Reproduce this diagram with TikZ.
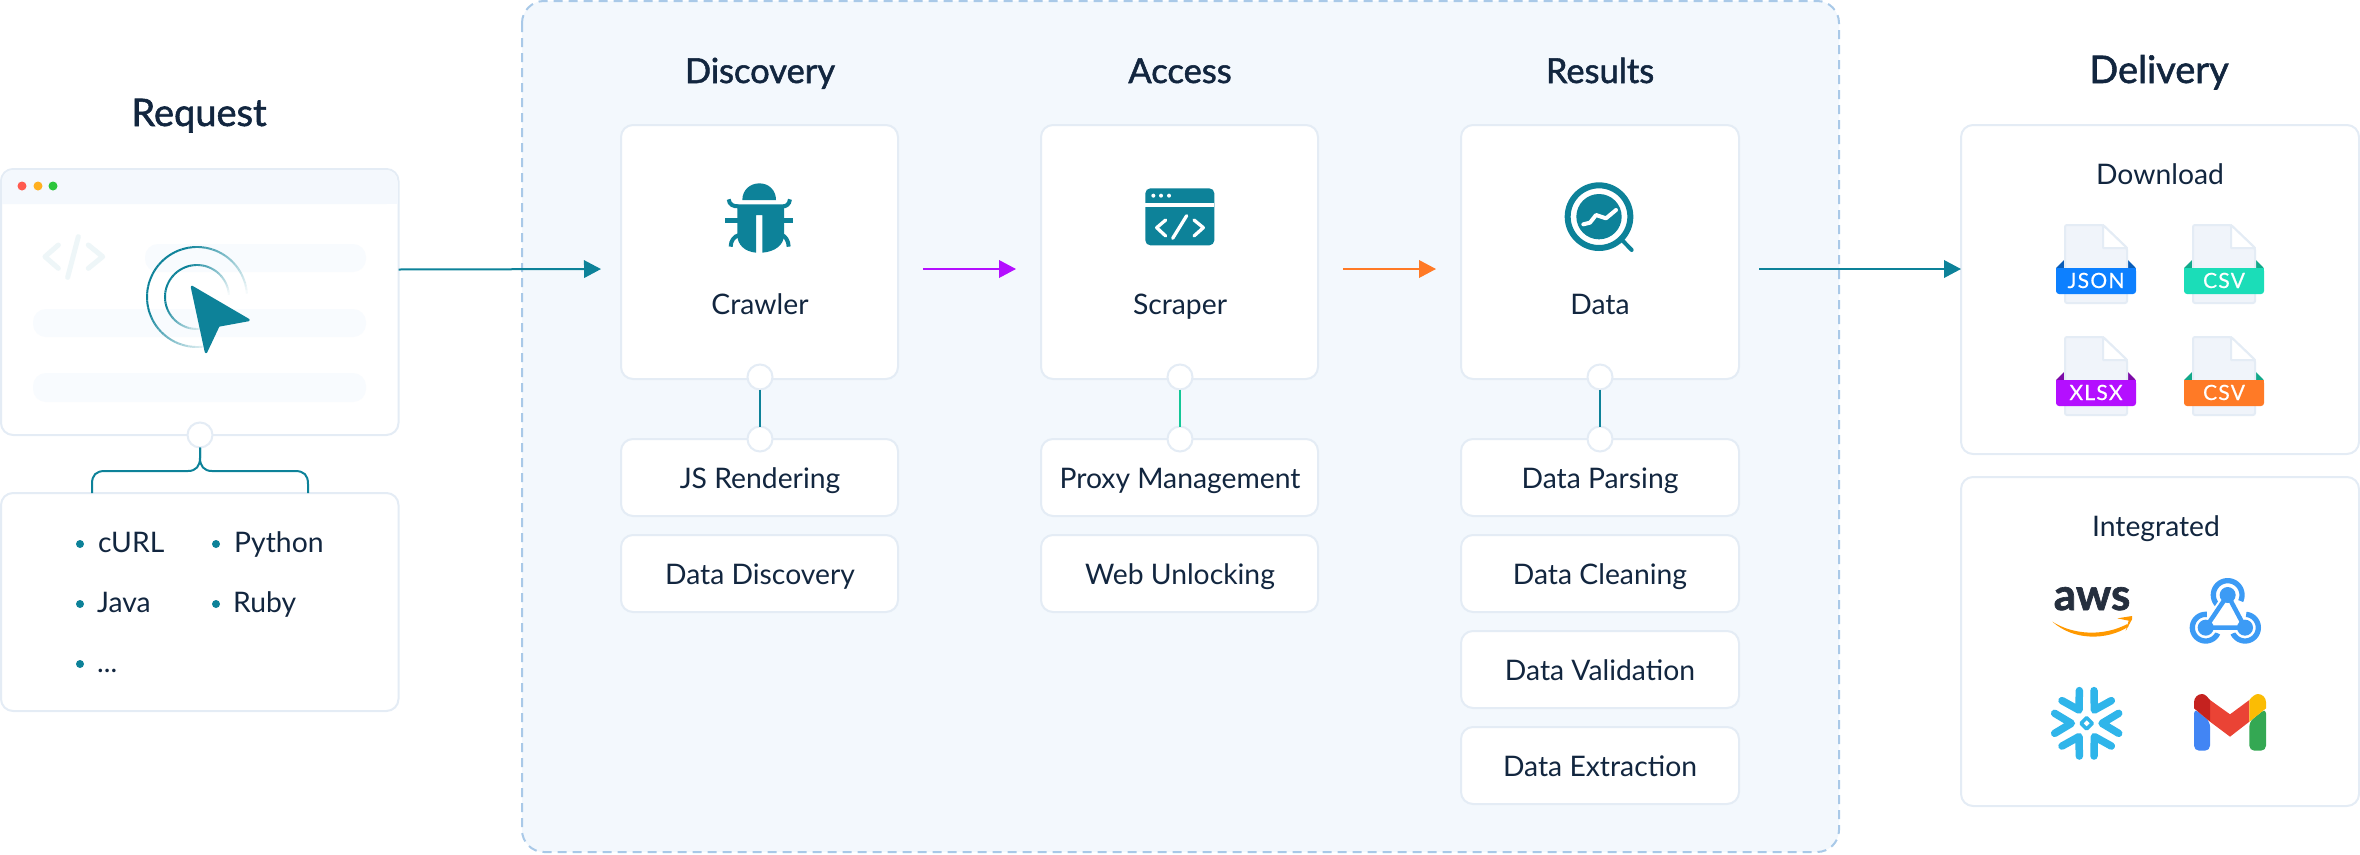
\documentclass[tikz,border=0pt]{standalone}
\usepackage{fontspec}
\usetikzlibrary{arrows.meta,calc}
\setmainfont{Lato}
\newfontfamily\tagfam[LetterSpace=6,FakeBold=0.4]{Lato}
\newfontfamily\ttlfam[FakeBold=1.5]{Lato}
\newfontfamily\awsfam[FakeBold=1.5]{Lato Bold}
\definecolor{edgec}{HTML}{E4ECF5}
\definecolor{tealc}{HTML}{0D8299}
\definecolor{inkc}{HTML}{12263F}
\definecolor{panelc}{HTML}{F3F8FD}
\definecolor{dashc}{HTML}{A9C9E8}
\definecolor{pillc}{HTML}{F8FBFE}
\definecolor{barc}{HTML}{F4F8FD}
\definecolor{sheetc}{HTML}{F0F4FA}
\definecolor{greenln}{HTML}{14C797}
\definecolor{purplec}{HTML}{B40FFF}
\definecolor{orangec}{HTML}{FF7A26}
\definecolor{bluec}{HTML}{0D80FF}
\definecolor{bluedk}{HTML}{0A5DB8}
\definecolor{mintc}{HTML}{1BDDB8}
\definecolor{mintdk}{HTML}{12A88A}
\definecolor{purpledk}{HTML}{7D0AA8}
\definecolor{hookc}{HTML}{3C9BF5}
\definecolor{snowc}{HTML}{2FB5EA}
\definecolor{awsc}{HTML}{252F3E}
\definecolor{awso}{HTML}{FF9900}
\definecolor{dotr}{HTML}{FF5A4F}
\definecolor{doty}{HTML}{FFB020}
\definecolor{dotg}{HTML}{2CC63C}
\definecolor{gblue}{HTML}{4285F4}
\definecolor{ggreen}{HTML}{34A853}
\definecolor{gred}{HTML}{EA4335}
\definecolor{gdred}{HTML}{C5221F}
\definecolor{gyellow}{HTML}{FBBC04}
\newcommand\bodyfnt{\fontsize{28.3}{32}\selectfont}
\newcommand\titlefnt{\ttlfam\fontsize{34.5}{38}\selectfont}
\newcommand\bigtitlefnt{\ttlfam\fontsize{38}{42}\selectfont}
\tikzset{
  card/.style n args={2}{draw=edgec,line width=2pt,fill=white,rounded corners=12pt,inner sep=0pt,outer sep=0pt,anchor=north west,minimum width=#1pt,minimum height=#2pt},
  port/.style={circle,draw=edgec,line width=2pt,fill=white,minimum size=25pt,inner sep=0pt,outer sep=0pt},
  lbl/.style={text=inkc,anchor=base,font=\bodyfnt,inner sep=0pt},
  lblw/.style={text=inkc,anchor=base west,font=\bodyfnt,inner sep=0pt},
  ttl/.style={text=inkc,anchor=base,font=\titlefnt,inner sep=0pt},
  bigttl/.style={text=inkc,anchor=base,font=\bigtitlefnt,inner sep=0pt},
  dot/.style={circle,fill=tealc,minimum size=8pt,inner sep=0pt},
  arr/.style={line width=2pt,-{Triangle[length=17pt,width=17.5pt]}},
  link/.style={line width=2pt},
  z/.style 2 args={shift={(#1,#2)},x=0.33333pt,y=-0.33333pt},
  tagtxt/.style={text=white,anchor=base,inner sep=0pt,font=\tagfam\fontsize{21}{24}\selectfont},
  pill/.style={fill=pillc,rounded corners=13pt},
}
\newcommand\fileicon[6]{% x y tag fill dark name
  \begin{scope}[shift={(#1,#2)}]
    \fill[#5] (2056,268) -- (2065,259) -- (2065,268) -- cycle;
    \fill[#5] (2135.7,268) -- (2127,259) -- (2127,268) -- cycle;
    \draw[edgec,fill=sheetc,line width=2pt,rounded corners=2pt] (2065,225) -- (2103,225) -- (2127,248) -- (2127,303) -- (2065,303) -- cycle;
    \draw[edgec,fill=white,line width=2pt,line join=round] (2103,225) -- (2103,248) -- (2127,248) -- cycle;
    \fill[#4,rounded corners=3pt] (2056,268) -- (2056,294) -- (2136,294) -- (2136,268) -- cycle;
    \fill[#4] (2056,268) rectangle (2136,280);
    \node[tagtxt] (#6) at (2096,288) {#3};
  \end{scope}
}
\begin{document}
\begin{tikzpicture}[x=1pt,y=-1pt]
\useasboundingbox (0,0) rectangle (2360,854);
% panel
\draw[fill=panelc,draw=dashc,line width=2pt,dash pattern=on 9pt off 6pt,rounded corners=22pt] (522,1) rectangle (1839,852);

% request window
\node[card={397.5}{266}] (request) at (1,169) {};
\fill[barc,rounded corners=11pt] (2,204) -- (2,170) -- (397.5,170) -- (397.5,204) [sharp corners] -- cycle;
\fill[barc] (2,190) rectangle (397.5,203.5);
\fill[dotr] (22,186) circle (4.5);
\fill[doty] (38,186) circle (4.5);
\fill[dotg] (53,186) circle (4.5);
\fill[pill] (145,244) rectangle (366,272);
\fill[pill] (33,309) rectangle (366,337);
\fill[pill] (33,373) rectangle (366,402);
\begin{scope}[z={0}{140},line width=5pt,line cap=round,line join=round,draw=tealc!7!white]
  \draw (175,315) -- (135,350) -- (175,385);
  \draw (235,290) -- (203,412);
  \draw (265,315) -- (308,350) -- (265,385);
\end{scope}
\foreach \a in {0,-4,...,-284}{
  \pgfmathsetmacro\p{max(0,min(100,min(-\a/1.0,(285+\a)/0.9)))}
  \draw[tealc!\p!white,line width=2pt] (197,297)+(\a:50) -- +({\a-4}:50);
  \draw[tealc!\p!white,line width=2pt] (197,297)+(\a:32) -- +({\a-4}:32);
}
\draw[fill=tealc,draw=tealc,line width=2.5pt,line join=round] (192,287) -- (248.5,320) -- (218.5,325.5) -- (206,352) -- cycle;

% list box
\node[card={397.5}{218}] (langs) at (1,493) {};
\node[port] (reqport) at (200,435) {};
\draw[tealc,link] (reqport.south) -- (200,458) .. controls (200,466) and (196,471) .. (188,471) -- (105,471) .. controls (96,471) and (92,475) .. (92,484) -- (92,493);
\draw[tealc,link] (reqport.south) -- (200,458) .. controls (200,466) and (204,471) .. (212,471) -- (295,471) .. controls (304,471) and (308,475) .. (308,484) -- (308,493);
\node[dot] (b1) at (80,544) {};
\node[dot] (b2) at (216,544) {};
\node[dot] (b3) at (80,604) {};
\node[dot] (b4) at (216,604) {};
\node[dot] (b5) at (80,664) {};
\node[lblw] (t1) at (98,552) {cURL};
\node[lblw] (t2) at (234,552) {Python};
\node[lblw] (t3) at (97,612) {Java};
\node[lblw] (t4) at (233,612) {Ruby};
\node[lblw] (t5) at (97,672) {...};

% titles
\node[bigttl] (h0) at (199,126) {Request};
\node[ttl] (h1) at (760,83) {Discovery};
\node[ttl] (h2) at (1180,83) {Access};
\node[ttl] (h3) at (1600,83) {Results};
\node[bigttl] (h4) at (2159,83) {Delivery};

% main cards
\node[card={277}{254}] (crawler) at (621,125) {};
\node[card={277}{254}] (scraper) at (1041,125) {};
\node[card={278}{254}] (data) at (1461,125) {};
\node[lbl] (crawlert) at (760,314) {Crawler};
\node[lbl] (scrapert) at (1180,314) {Scraper};
\node[lbl] (datat) at (1600,314) {Data};

% sub cards
\node[card={277}{77}] (js) at (621,439) {};
\node[card={277}{77}] (dd) at (621,535) {};
\node[card={277}{77}] (pm) at (1041,439) {};
\node[card={277}{77}] (wu) at (1041,535) {};
\node[card={278}{77}] (dp) at (1461,439) {};
\node[card={278}{77}] (dc) at (1461,535) {};
\node[card={278}{77}] (dv) at (1461,631) {};
\node[card={278}{77}] (de) at (1461,727) {};
\node[lbl] (jst) at (760,488) {JS Rendering};
\node[lbl] (ddt) at (760,584) {Data Discovery};
\node[lbl] (pmt) at (1180,488) {Proxy Management};
\node[lbl] (wut) at (1180,584) {Web Unlocking};
\node[lbl] (dpt) at (1600,488) {Data Parsing};
\node[lbl] (dct) at (1600,584) {Data Cleaning};
\node[lbl] (dvt) at (1600,680) {Data Validation};
\node[lbl] (det) at (1600,776) {Data Extraction};

% ports
\node[port] (p1a) at (760,377) {};
\node[port] (p1b) at (760,439) {};
\node[port] (p2a) at (1180,377) {};
\node[port] (p2b) at (1180,439) {};
\node[port] (p3a) at (1600,377) {};
\node[port] (p3b) at (1600,439) {};
\draw[tealc,link] (p1a) -- (p1b);
\draw[greenln,link] (p2a) -- (p2b);
\draw[tealc,link] (p3a) -- (p3b);

% delivery cards
\node[card={398}{329}] (download) at (1961,125) {};
\node[card={398}{329}] (integrated) at (1961,477) {};
\node[lbl] (dlt) at (2160,184) {Download};
\node[lbl] (intt) at (2156,536) {Integrated};

% arrows
\draw[arr,tealc,shorten >=20pt] ([yshift=32.5pt]request.east) -- ([yshift=-17pt]crawler.west);
\draw[arr,purplec,shorten <=25pt,shorten >=25pt] ([yshift=-17pt]crawler.east) -- ([yshift=-17pt]scraper.west);
\draw[arr,orangec,shorten <=25pt,shorten >=25pt] ([yshift=-17pt]scraper.east) -- ([yshift=-17pt]data.west);
\draw[arr,tealc,shorten <=20pt] ([yshift=-17pt]data.east) -- ([yshift=20.5pt]download.west);

% bug icon
\begin{scope}[z={700}{170},tealc]
  \fill (127,90) .. controls (127,60) and (150,40) .. (178,40) .. controls (206,40) and (228,60) .. (228,90) -- cycle;
  \fill (112,103) -- (252,103) -- (252,195) .. controls (252,225) and (225,245) .. (187,248) -- (187,135) -- (168,135) -- (168,248) .. controls (135,245) and (112,225) .. (112,195) -- cycle;
  \draw[line width=4pt] (86,88) .. controls (88,105) and (100,109) .. (115,109);
  \draw[line width=4pt] (270,88) .. controls (268,105) and (256,109) .. (250,109);
  \fill (75,145) rectangle (114,160);
  \fill (250,145) rectangle (280,160);
  \draw[line width=4pt] (92,230) .. controls (92,212) and (103,198) .. (118,195);
  \draw[line width=4pt] (266,230) .. controls (266,212) and (255,198) .. (246,195);
\end{scope}

% scraper icon
\begin{scope}[z={1120}{170}]
  \fill[tealc,rounded corners=5pt] (76,55) rectangle (283,226);
  \fill[white] (76,98) rectangle (283,110);
  \fill[white] (100,77) circle (6) (123,77) circle (6) (147,77) circle (6);
  \draw[white,line width=3.3pt,line cap=round,line join=round] (137,150) -- (110,173) -- (137,198);
  \draw[white,line width=3.3pt,line cap=round,line join=round] (200,137) -- (158,205);
  \draw[white,line width=3.3pt,line cap=round,line join=round] (222,150) -- (250,173) -- (222,198);
\end{scope}

% data icon
\begin{scope}[z={1540}{170}]
  \draw[tealc,line width=6pt] (177,140) circle (94);
  \fill[tealc] (177,140) circle (68);
  \draw[tealc,line width=4pt,line cap=round] (248,212) -- (275,240);
  \draw[white,line width=4pt,line cap=round,line join=round] (130,163) -- (150,158) -- (168,135) -- (198,145) -- (228,120);
\end{scope}

% file icons
\fileicon{0}{0}{JSON}{bluec}{bluedk}{fjson}
\fileicon{128}{0}{CSV}{mintc}{mintdk}{fcsva}
\fileicon{0}{112}{XLSX}{purplec}{purpledk}{fxlsx}
\fileicon{128}{112}{CSV}{orangec}{mintdk}{fcsvb}

% integrations
\begin{scope}[z={1960}{470}]
  \node[text=awsc,anchor=base,inner sep=0pt,font=\awsfam\fontsize{44}{50}\selectfont] (aws) at (396,420) {aws};
  \fill[awso] (277,455) .. controls (340,495) and (430,500) .. (502,462) -- (505,470) .. controls (440,512) and (340,512) .. (277,455) -- cycle;
  \fill[awso] (472,445) -- (516,438) -- (516,448) -- (497,483) -- (506,452) -- cycle;
  % webhook
  \draw[hookc,line width=5.3pt] plot[domain=135:385,samples=40,smooth] ({803+43*cos(\x)},{375+43*sin(\x)});
  \draw[hookc,line width=5.3pt] plot[domain=25:275,samples=40,smooth] ({737+40*cos(\x)},{473+40*sin(\x)});
  \draw[hookc,line width=5.3pt] plot[domain=-85:155,samples=40,smooth] ({855+40*cos(\x)},{473+40*sin(\x)});
  \draw[white,line width=10pt] (745,465) -- (790,398) (808,398) -- (845,462) (755,473) -- (840,473);
  \draw[hookc,line width=4.5pt] (737,473) -- (803,375) -- (855,473) -- cycle;
  \fill[hookc] (803,375) circle (24) (737,473) circle (24) (855,473) circle (24);
  % snowflake
  \foreach \t in {0,60,...,300}{
    \begin{scope}[shift={(380,760)},rotate=\t]
      \draw[snowc,line width=7.5pt,line cap=round,line join=round] (96,30) -- (46,0) -- (96,-30);
    \end{scope}
  }
  \draw[snowc,line width=3.5pt,line join=round] (380,743) -- (397,760) -- (380,777) -- (363,760) -- cycle;
  % gmail
  \fill[gblue,rounded corners=5pt] (702,715) -- (750,755) -- (750,842) -- (702,842) -- cycle;
  \fill[ggreen,rounded corners=5pt] (868,755) -- (918,715) -- (918,842) -- (868,842) -- cycle;
  \fill[gred] (750,690) -- (810,733) -- (868,690) -- (868,755) -- (810,800) -- (750,755) -- cycle;
  \fill[gdred] (702,715) -- (702,697) .. controls (702,683) and (713,672) .. (726,672) .. controls (736,672) and (743,682) .. (750,690) -- (750,755) -- cycle;
  \fill[gyellow] (918,715) -- (918,697) .. controls (918,683) and (907,672) .. (894,672) .. controls (884,672) and (875,682) .. (868,690) -- (868,755) -- cycle;
\end{scope}
\end{tikzpicture}
\end{document}
